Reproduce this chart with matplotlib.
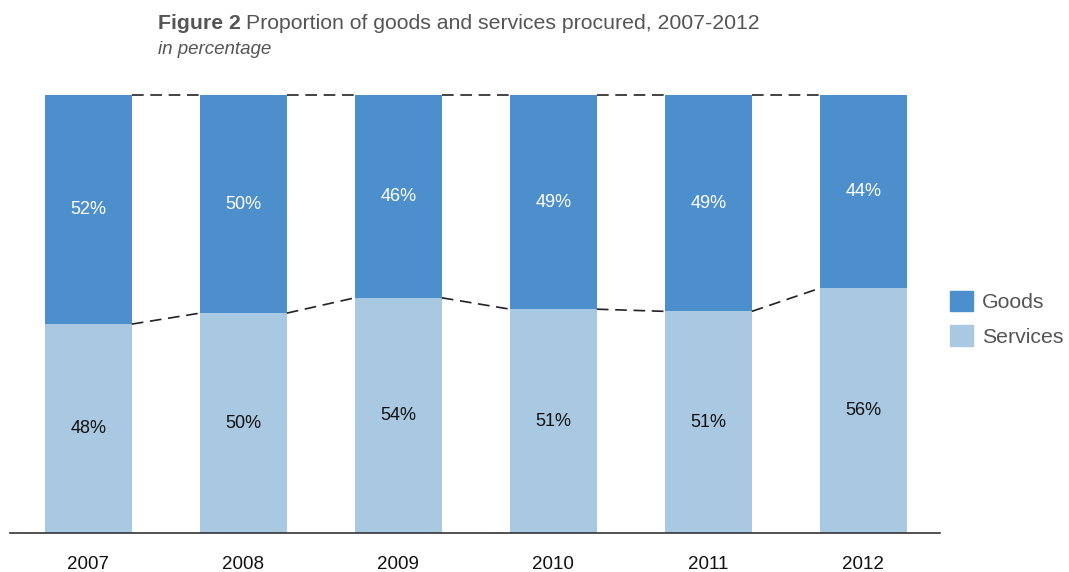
import matplotlib.pyplot as plt
from matplotlib.patches import Patch

years = ["2007", "2008", "2009", "2010", "2011", "2012"]
services = [47.7, 50.2, 53.7, 51.1, 50.6, 55.9]
goods = [52.3, 49.8, 46.3, 48.9, 49.4, 44.1]

goods_color = "#4d8fcc"
services_color = "#a9c8e1"
text_gray = "#555555"

plt.rcParams['font.family'] = ['Liberation Sans', 'DejaVu Sans']

fig = plt.figure(figsize=(10.69, 5.72), dpi=100)
ax = fig.add_axes([10 / 1069, 39 / 572, 930 / 1069, 438 / 572])

x = list(range(len(years)))
width = 0.56
ax.bar(x, services, width, color=services_color, zorder=2)
ax.bar(x, goods, width, bottom=services, color=goods_color, zorder=2)

# dashed connectors between neighbouring bars
for i in range(len(years) - 1):
    x0 = x[i] + width / 2
    x1 = x[i + 1] - width / 2
    ax.plot([x0, x1], [services[i], services[i + 1]], ls=(0, (7, 4)),
            color="#222222", lw=1.2, zorder=3)
    ax.plot([x0, x1], [100, 100], ls=(0, (7, 4)),
            color="#222222", lw=1.2, zorder=3, clip_on=False)

for i in range(len(years)):
    ax.text(x[i], services[i] / 2, f"{round(services[i])}%", ha="center",
            va="center", fontsize=13, color="#111111")
    ax.text(x[i], services[i] + goods[i] / 2, f"{round(goods[i])}%",
            ha="center", va="center", fontsize=13, color="white")

ax.set_xlim(-0.506, 5.494)
ax.set_ylim(0, 100)
ax.set_xticks(x)
ax.set_xticklabels(years, fontsize=13.5, color="#111111")
ax.tick_params(axis="x", length=0, pad=16.5)
ax.set_yticks([])
for side in ["top", "right", "left"]:
    ax.spines[side].set_visible(False)
ax.spines["bottom"].set_color("#333333")
ax.spines["bottom"].set_linewidth(1.2)
ax.spines["bottom"].set_zorder(4)

handles = [Patch(color=goods_color, label="Goods"),
           Patch(color=services_color, label="Services")]
fig.legend(handles=handles, loc="upper left",
           bbox_to_anchor=(950 / 1069, 1 - 291 / 572), frameon=False,
           fontsize=15.3, handlelength=1.1, handleheight=1.1,
           labelspacing=0.6, handletextpad=0.4, borderpad=0, borderaxespad=0,
           labelcolor=text_gray)

t1 = fig.text(158 / 1069, 1 - 23.5 / 572, "Figure 2", fontsize=15.3,
              fontweight="bold", color=text_gray, va="center", ha="left")
renderer = fig.canvas.get_renderer()
bb = t1.get_window_extent(renderer=renderer)
fig.text((bb.x1 + 5) / 1069, 1 - 23.5 / 572,
         "Proportion of goods and services procured, 2007-2012",
         fontsize=15.3, color=text_gray, va="center", ha="left")
fig.text(158 / 1069, 1 - 50 / 572, "in percentage", fontsize=13.5,
         style="italic", color=text_gray, va="center", ha="left")

fig.savefig("out.png", dpi=100)
